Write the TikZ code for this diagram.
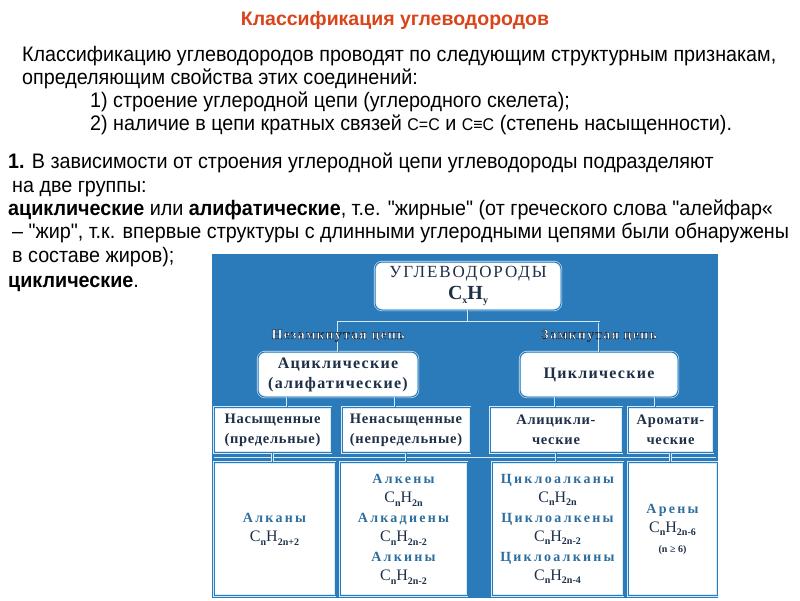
\documentclass[tikz,border=0pt]{standalone}
\usepackage{fontspec}
\usetikzlibrary{positioning}
\setmainfont{Liberation Sans}
\newfontfamily\narrowfont{Liberation Sans}[FakeStretch=0.94]
\newfontfamily\serfont{Liberation Serif}[LetterSpace=8]
\newfontfamily\rootfont{Liberation Serif}[LetterSpace=11]
\newfontfamily\kindfont{Liberation Serif}[LetterSpace=5]
\newfontfamily\widefont{Liberation Serif}[LetterSpace=16]
\newfontfamily\formfont{Liberation Serif}

\definecolor{panelblue}{RGB}{43,123,186}
\definecolor{paleline}{RGB}{214,234,248}
\definecolor{titlered}{RGB}{217,68,26}
\definecolor{darktext}{RGB}{30,48,72}
\definecolor{nametext}{RGB}{46,110,158}

\newcommand{\sbs}[1]{\raisebox{-0.45ex}{\fontsize{10}{10}\selectfont\bfseries #1}}
% white letters with a dark outline
\newcommand{\outlined}[1]{\special{pdf:literal direct 0.12 0.19 0.28 RG 2 Tr 0.45 w}#1\special{pdf:literal direct 0 Tr}}

\begin{document}
\begin{tikzpicture}[x=1pt,y=-1pt,on grid,
  txtline/.style={anchor=base west,inner sep=0pt,font=\fontsize{21}{23}\narrowfont},
  link/.style={draw=paleline,double=panelblue,double distance=1pt,line width=0.6pt},
  topbox/.style={link,fill=white,rounded corners=7pt,align=center,inner sep=0pt,text=darktext},
  kindbox/.style={link,fill=white,align=center,inner sep=0pt,text=darktext,
    minimum height=45pt,font=\fontsize{14.5}{20}\kindfont\bfseries},
  listbox/.style={link,fill=white,align=center,inner sep=0pt,
    minimum height=133pt,font=\fontsize{14}{19.5}\selectfont},
  chainlbl/.style={font=\fontsize{14}{14}\serfont\bfseries,text=white,inner sep=0pt}]

\useasboundingbox (0,0) rectangle (800,600);

% title and text
\node[anchor=base,inner sep=0pt,text=titlered,font=\fontsize{19.5}{22}\selectfont\bfseries]
  (title) at (395,25) {Классификация углеводородов};

\node[txtline] (l1) at (22,61) {Классификацию углеводородов проводят по следующим структурным признакам,};
\node[txtline] (l2) at (22,84) {определяющим свойства этих соединений:};
\node[txtline] (l3) at (90,107) {1) строение углеродной цепи (углеродного скелета);};
\node[txtline] (l4) at (90,130) {2) наличие в цепи кратных связей {\fontsize{17}{17}\selectfont С=С} и {\fontsize{17}{17}\selectfont С≡С} (степень насыщенности).};

\node[txtline] (p1) at (8,168) {\textbf{1.} В зависимости от строения углеродной цепи углеводороды подразделяют};
\node[txtline] (p2) at (12,192) {на две группы:};
\node[txtline] (p3) at (8,215) {\textbf{ациклические} или \textbf{алифатические}, т.е. "жирные" (от греческого слова "алейфар«};
\node[txtline] (p4) at (12,238) {– "жир", т.к. впервые структуры с длинными углеродными цепями были обнаружены};
\node[txtline] (p5) at (12,262) {в составе жиров);};
\node[txtline] (p6) at (8,287) {\textbf{циклические}.};

% panel
\fill[panelblue] (212,254) rectangle (718,598);

\node[topbox,minimum width=186pt,minimum height=48pt,font=\fontsize{17}{22}\rootfont] (root) at (468,286)
  {УГЛЕВОДОРОДЫ\\{\fontsize{20}{22}\formfont\bfseries C\sbs{x}H\sbs{y}}};

\node[topbox,minimum width=160pt,minimum height=45pt,font=\fontsize{16}{20}\serfont\bfseries]
  (acyc) [below left=88.5pt and 130pt of root] {Ациклические\\(алифатические)};
\node[topbox,minimum width=158pt,minimum height=45pt,font=\fontsize{16}{20}\serfont\bfseries]
  (cyc) [right=261pt of acyc] {Циклические};

\node[kindbox,minimum width=117pt] (sat) at (272.5,430) {Насыщенные\\(предельные)};
\node[kindbox,minimum width=128pt] (unsat) at (406,430) {Ненасыщенные\\(непредельные)};
\node[kindbox,minimum width=132pt] (alicyc) at (556,430) {Алицикли-\\ческие};
\node[kindbox,minimum width=85pt] (arom) at (670.5,430) {Аромати-\\ческие};

\node[listbox,minimum width=121pt] (alkanes) at (274.5,529)
  {{\widefont\bfseries\color{nametext}Алканы}\\
   {\fontsize{16}{19.5}\formfont\color{darktext}C\sbs{n}H\sbs{2n+2}}};
\node[listbox,minimum width=127pt] (unsatlist) at (403.5,529)
  {{\widefont\bfseries\color{nametext}Алкены}\\
   {\fontsize{16}{19.5}\formfont\color{darktext}C\sbs{n}H\sbs{2n}}\\
   {\widefont\bfseries\color{nametext}Алкадиены}\\
   {\fontsize{16}{19.5}\formfont\color{darktext}C\sbs{n}H\sbs{2n-2}}\\
   {\widefont\bfseries\color{nametext}Алкины}\\
   {\fontsize{16}{19.5}\formfont\color{darktext}C\sbs{n}H\sbs{2n-2}}};
\node[listbox,minimum width=131pt] (cyclolist) at (557.5,529)
  {{\widefont\bfseries\color{nametext}Циклоалканы}\\
   {\fontsize{16}{19.5}\formfont\color{darktext}C\sbs{n}H\sbs{2n}}\\
   {\widefont\bfseries\color{nametext}Циклоалкены}\\
   {\fontsize{16}{19.5}\formfont\color{darktext}C\sbs{n}H\sbs{2n-2}}\\
   {\widefont\bfseries\color{nametext}Циклоалкины}\\
   {\fontsize{16}{19.5}\formfont\color{darktext}C\sbs{n}H\sbs{2n-4}}};
\node[listbox,minimum width=89pt] (arenes) at (672.5,529)
  {{\widefont\bfseries\color{nametext}Арены}\\
   {\fontsize{16}{19.5}\formfont\color{darktext}C\sbs{n}H\sbs{2n-6}}\\
   {\fontsize{10}{19.5}\formfont\bfseries\color{darktext}(n ≥ 6)}};

% links
\coordinate (split) at ([yshift=-12pt]root.south);
\draw[link] (root.south) -- (split);
\draw[link] (acyc.north) |- (split) -| (cyc.north);
\draw[link] ([xshift=-51pt]acyc.south) -- ([xshift=-51pt]acyc.south |- sat.north);
\draw[link] ([xshift=57pt]acyc.south) -- ([xshift=57pt]acyc.south |- unsat.north);
\draw[link] ([xshift=-44pt]cyc.south) -- ([xshift=-44pt]cyc.south |- alicyc.north);
\draw[link] ([xshift=56pt]cyc.south) -- ([xshift=56pt]cyc.south |- arom.north);
\draw[link] ([yshift=-4pt]sat.south west) -- ([yshift=-4pt,xshift=3pt]arom.south east);
\draw[link] (sat.south) -- (sat.south |- alkanes.north);
\draw[link] (unsat.south) -- (unsat.south |- unsatlist.north);
\draw[link] (alicyc.south) -- (alicyc.south |- cyclolist.north);
\draw[link] (arom.south) -- (arom.south |- arenes.north);

\node[chainlbl] (open) at ([yshift=16pt]acyc.north) {\outlined{Незамкнутая цепь}};
\node[chainlbl] (closed) at ([yshift=16pt]cyc.north) {\outlined{Замкнутая цепь}};
\end{tikzpicture}
\end{document}
